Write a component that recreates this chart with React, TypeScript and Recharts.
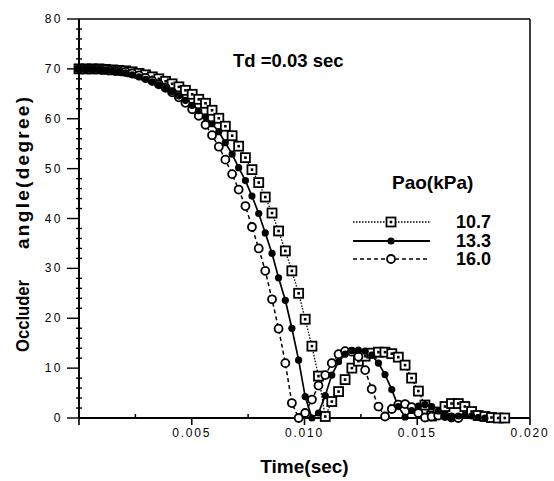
import { Legend, Line, LineChart, ReferenceLine, XAxis, YAxis } from "recharts";

// time axis (sec) of the sampled points
const time = [
  0, 0.0003, 0.00059, 0.00089, 0.00118, 0.00148, 0.00177, 0.00207, 0.00236, 0.00266,
  0.00295, 0.00325, 0.00354, 0.00384, 0.00413, 0.00443, 0.00472, 0.00502, 0.00531, 0.00561,
  0.0059, 0.0062, 0.00649, 0.00679, 0.00708, 0.00738, 0.00767, 0.00797, 0.00826, 0.00856,
  0.00885, 0.00915, 0.00944, 0.00974, 0.01003, 0.01033, 0.01062, 0.01092, 0.01121, 0.01151,
  0.0118, 0.0121, 0.01239, 0.01269, 0.01298, 0.01328, 0.01357, 0.01387, 0.01416, 0.01446,
  0.01475, 0.01505, 0.01534, 0.01564, 0.01593, 0.01623, 0.01652, 0.01682, 0.01711, 0.01741,
  0.0177, 0.018, 0.01829, 0.01859, 0.01888,
];

// occluder angle (degree) for Pao = 10.7 kPa
const pao107 = [
  70, 70, 70, 70, 69.9, 69.8, 69.7, 69.6, 69.4, 69.1,
  68.8, 68.4, 68.0, 67.5, 67.0, 66.4, 65.7, 64.9, 63.9, 63.1,
  61.7, 60.1, 58.5, 56.6, 54.5, 52.2, 49.8, 47.2, 44.3, 41.1,
  37.5, 33.5, 29.5, 25.0, 19.8, 14.4, 8.4, 0.3, 3.3, 5.3,
  7.7, 10.0, 11.4, 12.4, 13.0, 13.2, 13.2, 12.9, 12.2, 10.6,
  8.0, 5.4, 2.6, 0.4, 1.2, 2.3, 2.9, 2.9, 2.3, 1.3,
  0.5, 0.3, 0.1, 0, 0,
];

// Pao = 13.3 kPa
const pao133 = [
  70, 70, 70, 69.9, 69.8, 69.7, 69.5, 69.2, 68.8, 68.4,
  67.9, 67.4, 66.8, 66.1, 65.4, 64.6, 63.7, 62.7, 61.6, 60.4,
  59.0, 57.4, 55.2, 52.9, 50.2, 47.6, 44.5, 41.0, 37.1, 33.0,
  28.1, 23.6, 18.0, 11.6, 4.3, 0, 1.0, 4.5, 8.6, 11.3,
  12.8, 13.5, 13.6, 13.4, 12.6, 11.0, 8.7, 5.7, 2.3, 0.2,
  1.5, 2.4, 2.7, 2.3, 1.4, 0.4, 0.1, 0.4, 0.6, 0.4,
  0.1, 0, null, null, null,
];

// Pao = 16.0 kPa
const pao160 = [
  70, 70, 70, 70, 69.9, 69.8, 69.6, 69.4, 69.1, 68.7,
  68.2, 67.6, 66.9, 66.2, 65.3, 64.3, 63.2, 61.9, 60.6, 58.8,
  56.7, 54.4, 51.8, 48.9, 45.8, 42.5, 38.3, 34.0, 29.5, 23.8,
  17.9, 11.0, 3.0, 0, 1.0, 3.7, 6.5, 8.6, 11.0, 12.8,
  13.4, 13.3, 12.3, 9.6, 5.8, 2.3, 0.3, 1.8, 2.7, 2.8,
  2.2, 1.0, 0.1, 0.3, 0.5, 0.4, 0.1, 0, null, null,
  null, null, null, null, null,
];

const xTicks = [0, 0.0025, 0.005, 0.0075, 0.01, 0.0125, 0.015, 0.0175, 0.02];
const yTicks = [
  0, 2, 4, 6, 8, 10, 12, 14, 16, 18, 20, 22, 24, 26, 28, 30, 32, 34, 36, 38, 40,
  42, 44, 46, 48, 50, 52, 54, 56, 58, 60, 62, 64, 66, 68, 70, 72, 74, 76, 78, 80,
];
const seriesNames = ["10.7", "13.3", "16.0"];

const data = time.map((t, i) => ({ t, a: pao107[i], b: pao133[i], c: pao160[i] }));

const FONT = '"Liberation Sans", Arial, Helvetica, sans-serif';

function SquareMark({ cx, cy }: { cx: number; cy: number }) {
  return (
    <g>
      <rect x={cx - 4.5} y={cy - 4.5} width={9} height={9} fill="#fff" stroke="#000" strokeWidth={1.8} />
      <rect x={cx - 1.3} y={cy - 1.3} width={2.6} height={2.6} fill="#000" />
    </g>
  );
}
function FilledMark({ cx, cy }: { cx: number; cy: number }) {
  return <circle cx={cx} cy={cy} r={3.6} fill="#000" />;
}
function OpenMark({ cx, cy }: { cx: number; cy: number }) {
  return <circle cx={cx} cy={cy} r={4} fill="#fff" stroke="#000" strokeWidth={1.8} />;
}

function dotFor(Mark: (p: { cx: number; cy: number }) => any, tag: string) {
  return (props: any) => {
    const { cx, cy, index, value } = props;
    if (value == null || cx == null || cy == null || Number.isNaN(cy)) return <g key={`${tag}${index}`} />;
    return (
      <g key={`${tag}${index}`}>
        <Mark cx={cx} cy={cy} />
      </g>
    );
  };
}

function XTick({ x, y, payload }: any) {
  const v = payload.value as number;
  const major = Math.abs(v / 0.005 - Math.round(v / 0.005)) < 1e-6;
  if (!major) return <line x1={x} x2={x} y1={y} y2={y - 4} stroke="#000" strokeWidth={1.5} />;
  return (
    <g>
      <line x1={x} x2={x} y1={y} y2={y + 7} stroke="#000" strokeWidth={1.6} />
      {v > 0 && (
        <text x={x} y={y + 19} textAnchor="middle" fontFamily={FONT} fontSize={12} letterSpacing={1.8} fill="#000">
          {v.toFixed(3)}
        </text>
      )}
    </g>
  );
}

function YTick({ x, y, payload }: any) {
  const v = payload.value as number;
  if (v % 10 !== 0) return <line x1={x - 3} x2={x + 3} y1={y} y2={y} stroke="#000" strokeWidth={1.4} />;
  return (
    <g>
      <line x1={x - 12} x2={x} y1={y} y2={y} stroke="#000" strokeWidth={1.4} />
      <text x={x - 16} y={y + 4} textAnchor="end" fontFamily={FONT} fontSize={12} letterSpacing={2.5} fill="#000">
        {v}
      </text>
    </g>
  );
}

// rotated axis title: "Occluder" low, "angle(degree)" higher, with a wide gap
function YTitle() {
  return (
    <g fontFamily={FONT} fontSize={19} fontWeight="bold" fill="#000">
      <text transform="translate(29,352) rotate(-90)" textAnchor="start" textLength={72} lengthAdjust="spacingAndGlyphs">
        Occluder
      </text>
      <text transform="translate(29,97) rotate(-90)" textAnchor="end" textLength={152} lengthAdjust="spacing">
        angle(degree)
      </text>
    </g>
  );
}

function LegendBox() {
  const rows = [
    { name: seriesNames[0], dash: "1.5 1.5", Mark: SquareMark, w: 1.3 },
    { name: seriesNames[1], dash: undefined, Mark: FilledMark, w: 2 },
    { name: seriesNames[2], dash: "4 3", Mark: OpenMark, w: 1.5 },
  ];
  return (
    <div style={{ fontFamily: FONT, color: "#000" }}>
      <div style={{ fontSize: 19, fontWeight: "bold", marginLeft: 40, height: 22, lineHeight: "22px" }}>Pao(kPa)</div>
      <div style={{ height: 19 }} />
      {rows.map((r) => (
        <div key={r.name} style={{ display: "flex", alignItems: "center", height: 18.5 }}>
          <svg width={82} height={14} style={{ display: "block" }}>
            <line x1={1} x2={78} y1={7} y2={7} stroke="#000" strokeWidth={r.w} strokeDasharray={r.dash} />
            <r.Mark cx={39} cy={7} />
          </svg>
          <span style={{ fontSize: 18, fontWeight: "bold", marginLeft: 22, lineHeight: "18px" }}>{r.name}</span>
        </div>
      ))}
    </div>
  );
}

export default function App() {
  return (
    <div style={{ position: "absolute", left: 0, top: 0, width: 554, height: 481, background: "#fff" }}>
      <LineChart width={554} height={481} data={data} margin={{ top: 19, right: 24, bottom: 33, left: 0 }}>
        <XAxis
          dataKey="t"
          type="number"
          domain={[0, 0.02]}
          ticks={xTicks}
          interval={0}
          tickSize={0}
          tickMargin={0}
          tickLine={false}
          tick={<XTick />}
          axisLine={{ stroke: "#000", strokeWidth: 2 }}
          height={30}
          label={{ value: "Time(sec)", position: "insideBottom", offset: -25, fontFamily: FONT, fontSize: 19, fontWeight: "bold", fill: "#000" }}
        />
        <YAxis
          type="number"
          domain={[0, 80]}
          ticks={yTicks}
          interval={0}
          tickSize={0}
          tickMargin={0}
          tickLine={false}
          tick={<YTick />}
          axisLine={{ stroke: "#000", strokeWidth: 2 }}
          width={79}
          label={{ content: () => <YTitle /> }}
        />
        <ReferenceLine y={80} stroke="#000" strokeWidth={1.5} />
        <ReferenceLine x={0.02} stroke="#000" strokeWidth={1.5} />
        <Legend layout="vertical" align="center" verticalAlign="middle" content={() => <LegendBox />} wrapperStyle={{ left: 352, top: 172, width: 170 }} />
        <Line dataKey="a" stroke="#000" strokeWidth={1.3} strokeDasharray="1.5 1.5" dot={dotFor(SquareMark, "s")} isAnimationActive={false} />
        <Line dataKey="c" stroke="#000" strokeWidth={1.5} strokeDasharray="4 3" dot={dotFor(OpenMark, "o")} isAnimationActive={false} />
        <Line dataKey="b" stroke="#000" strokeWidth={1.7} dot={dotFor(FilledMark, "f")} isAnimationActive={false} />
      </LineChart>
      <div style={{ position: "absolute", left: 233, top: 50, fontFamily: FONT, fontSize: 18.5, fontWeight: "bold", color: "#000", whiteSpace: "pre" }}>
        Td =0.03 sec
      </div>
    </div>
  );
}
